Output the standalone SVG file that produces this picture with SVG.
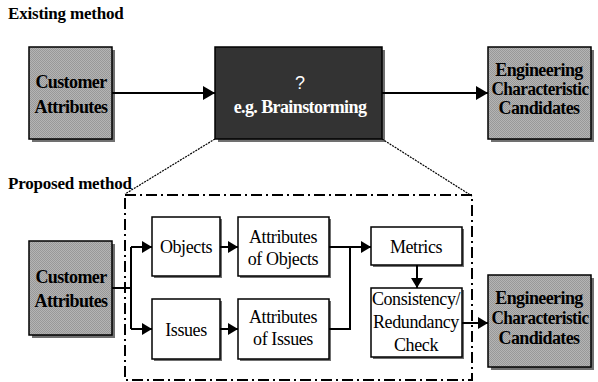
<svg xmlns="http://www.w3.org/2000/svg" width="598" height="382" viewBox="0 0 598 382">
<defs>
<pattern id="dither" width="2" height="2" patternUnits="userSpaceOnUse">
<rect width="2" height="2" fill="#b4b4b4"/>
<rect width="1" height="1" fill="#989898"/>
<rect x="1" y="1" width="1" height="1" fill="#989898"/>
</pattern>
<marker id="big" markerUnits="userSpaceOnUse" markerWidth="12" markerHeight="14" refX="12" refY="7" orient="auto">
<path d="M0,0 L12,7 L0,14 z" fill="#000"/>
</marker>
<marker id="sm" markerUnits="userSpaceOnUse" markerWidth="10" markerHeight="12" refX="10" refY="6" orient="auto">
<path d="M0,0 L10,6 L0,12 z" fill="#000"/>
</marker>
</defs>
<style>
.shadow{fill:#707070}
.gray{fill:url(#dither);stroke:#000;stroke-width:1.5}
.white{fill:#fff;stroke:#000;stroke-width:1.5}
.dark{fill:#333;stroke:#000;stroke-width:1.5}
.bt{font-family:"Liberation Serif","Times New Roman",serif;font-weight:bold;font-size:18px;text-anchor:middle;fill:#000;letter-spacing:-0.6px}
.rt{font-family:"Liberation Serif","Times New Roman",serif;font-size:18px;text-anchor:middle;fill:#000;letter-spacing:-0.4px}
.hd{font-family:"Liberation Serif","Times New Roman",serif;font-weight:bold;font-size:17px;fill:#000;letter-spacing:-0.2px}
.conn{fill:none;stroke:#000;stroke-width:2}
.dot{fill:none;stroke:#000;stroke-width:1.2;stroke-dasharray:2 1}
</style>

<text class="hd" x="8" y="19">Existing method</text>
<text class="hd" x="8" y="189">Proposed method</text>

<g id="ca-top">
<rect class="shadow" x="32" y="50" width="83" height="92"/>
<rect class="gray" x="29" y="47" width="83" height="92"/>
<text class="bt" x="71" y="88">Customer</text>
<text class="bt" x="71" y="113">Attributes</text>
</g>

<g id="brainstorm">
<rect class="shadow" x="218" y="50" width="167" height="92"/>
<rect class="dark" x="215" y="47" width="167" height="92"/>
<text x="300" y="89" font-family="Liberation Sans,Arial,sans-serif" font-size="18" fill="#fff" text-anchor="middle">?</text>
<text class="bt" x="300" y="113" style="fill:#fff">e.g. Brainstorming</text>
</g>

<g id="ec-top">
<rect class="shadow" x="491" y="50" width="103" height="92"/>
<rect class="gray" x="488" y="47" width="103" height="92"/>
<text class="bt" x="539" y="76">Engineering</text>
<text class="bt" x="540" y="95" textLength="97" lengthAdjust="spacingAndGlyphs">Characteristic</text>
<text class="bt" x="539" y="114">Candidates</text>
</g>

<g id="proposed-box">
<rect x="125" y="195" width="347" height="185" fill="none" stroke="#000" stroke-width="2" stroke-dasharray="11 4 2 4"/>
</g>

<g id="ca-bottom">
<rect class="shadow" x="32" y="244" width="83" height="94"/>
<rect class="gray" x="29" y="241" width="83" height="94"/>
<text class="bt" x="71" y="283">Customer</text>
<text class="bt" x="71" y="307">Attributes</text>
</g>

<g id="objects">
<rect class="shadow" x="154" y="219" width="68" height="59"/>
<rect class="white" x="152" y="217" width="68" height="59"/>
<text class="rt" x="186" y="253">Objects</text>
</g>

<g id="issues">
<rect class="shadow" x="154" y="301" width="68" height="60"/>
<rect class="white" x="152" y="299" width="68" height="60"/>
<text class="rt" x="186" y="336">Issues</text>
</g>

<g id="attr-objects">
<rect class="shadow" x="240" y="219" width="91" height="59"/>
<rect class="white" x="238" y="217" width="91" height="59"/>
<text class="rt" x="283" y="243">Attributes</text>
<text class="rt" x="283" y="265">of Objects</text>
</g>

<g id="attr-issues">
<rect class="shadow" x="240" y="301" width="91" height="60"/>
<rect class="white" x="238" y="299" width="91" height="60"/>
<text class="rt" x="283" y="323">Attributes</text>
<text class="rt" x="283" y="345">of Issues</text>
</g>

<g id="metrics">
<rect class="shadow" x="373" y="229" width="91" height="38"/>
<rect class="white" x="371" y="227" width="91" height="38"/>
<text class="rt" x="416" y="253">Metrics</text>
</g>

<g id="consistency">
<rect class="shadow" x="373" y="290" width="91" height="69"/>
<rect class="white" x="371" y="288" width="91" height="69"/>
<text class="rt" x="416" y="305">Consistency/</text>
<text class="rt" x="416" y="328">Redundancy</text>
<text class="rt" x="416" y="351">Check</text>
</g>

<g id="ec-bottom">
<rect class="shadow" x="491" y="278" width="103" height="92"/>
<rect class="gray" x="488" y="275" width="103" height="92"/>
<text class="bt" x="539" y="304">Engineering</text>
<text class="bt" x="540" y="324" textLength="97" lengthAdjust="spacingAndGlyphs">Characteristic</text>
<text class="bt" x="539" y="344">Candidates</text>
</g>

<g id="connectors">
<line class="conn" x1="112" y1="93" x2="215" y2="93" marker-end="url(#big)"/>
<line class="conn" x1="382" y1="93" x2="488" y2="93" marker-end="url(#big)"/>
<line class="dot" x1="215" y1="139" x2="125" y2="194"/>
<line class="dot" x1="382" y1="139" x2="472" y2="196"/>
<polyline class="conn" points="112,288 131,288"/>
<polyline class="conn" points="131,247 131,329"/>
<line class="conn" x1="131" y1="247" x2="152" y2="247" marker-end="url(#sm)"/>
<line class="conn" x1="131" y1="329" x2="152" y2="329" marker-end="url(#sm)"/>
<line class="conn" x1="220" y1="247" x2="238" y2="247" marker-end="url(#sm)"/>
<line class="conn" x1="220" y1="329" x2="238" y2="329" marker-end="url(#sm)"/>
<line class="conn" x1="329" y1="247" x2="371" y2="247" marker-end="url(#sm)"/>
<polyline class="conn" points="329,329 350,329 350,247"/>
<line class="conn" x1="417" y1="265" x2="417" y2="288" marker-end="url(#sm)"/>
<line class="conn" x1="462" y1="323" x2="488" y2="323" marker-end="url(#sm)"/>
</g>
</svg>
